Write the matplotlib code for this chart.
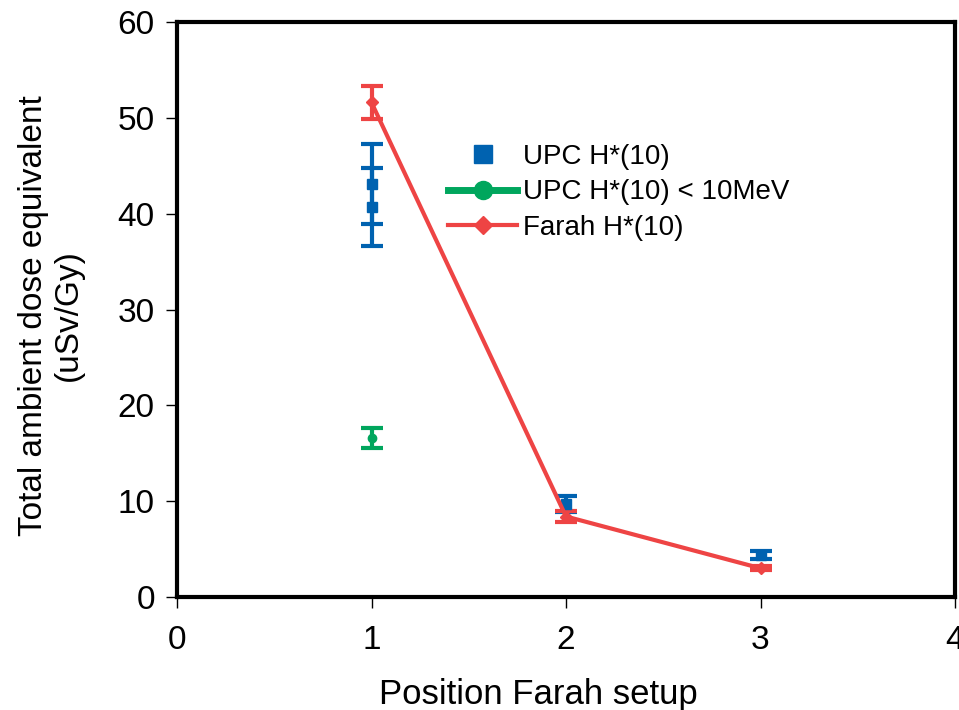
import matplotlib.pyplot as plt
import numpy as np
from matplotlib.lines import Line2D

plt.rcParams['font.family'] = ['Liberation Sans', 'DejaVu Sans']

# UPC H*(10)
upc_x = [1, 1, 2, 3]
upc_y = [43.1, 40.7, 9.7, 4.4]
upc_err = [4.2, 4.1, 0.8, 0.45]

# UPC H*(10) < 10MeV
low_x = [1]
low_y = [16.6]
low_err = [1.0]

# Farah H*(10)
farah_x = [1, 2, 3]
farah_y = [51.6, 8.4, 3.0]
farah_err = [1.7, 0.6, 0.2]

labels = ['UPC H*(10)', 'UPC H*(10) < 10MeV', 'Farah H*(10)']

blue = '#0062b0'
green = '#00a65d'
red = '#ee4444'

fig = plt.figure(figsize=(9.59, 7.10), dpi=100)
ax = fig.add_axes([177/959, 1 - 597/710, (955-177)/959, (597-22)/710])

ax.errorbar(upc_x, upc_y, yerr=upc_err, fmt='s', color=blue, ms=7,
            elinewidth=3, capsize=8, capthick=3)
ax.errorbar(low_x, low_y, yerr=low_err, fmt='o-', color=green, ms=6, lw=4,
            elinewidth=3, capsize=8, capthick=3)
ax.errorbar(farah_x, farah_y, yerr=farah_err, fmt='D-', color=red, ms=6, lw=3,
            elinewidth=3, capsize=8, capthick=3)

ax.set_xlim(0, 4)
ax.set_ylim(0, 60)
ax.set_xticks(np.arange(0, 5, 1))
ax.set_yticks(np.arange(0, 61, 10))
ax.tick_params(labelsize=24, direction='out', width=1, length=8, color='black')
ax.tick_params(axis='y', pad=8)
ax.tick_params(axis='x', pad=12)
for s in ax.spines.values():
    s.set_linewidth(3)

ax.set_xlabel('Position Farah setup', fontsize=25, labelpad=16)
ax.xaxis.label.set_x(0.465)
ax.set_ylabel('Total ambient dose equivalent\n(uSv/Gy)', fontsize=24, labelpad=24)
ax.yaxis.label.set_y(0.49)

# legend without frame
h = [Line2D([], [], marker='s', ls='none', color=blue, ms=13),
     Line2D([], [], marker='o', ls='-', lw=5, color=green, ms=13),
     Line2D([], [], marker='D', ls='-', lw=3, color=red, ms=9)]
fig.legend(h, labels, loc='upper left', bbox_to_anchor=(448/959, 1 - 144/710),
           frameon=False, fontsize=20, handlelength=2.5, handletextpad=0.2,
           labelspacing=0.34, borderpad=0, borderaxespad=0)

fig.savefig('out.png', dpi=100)
